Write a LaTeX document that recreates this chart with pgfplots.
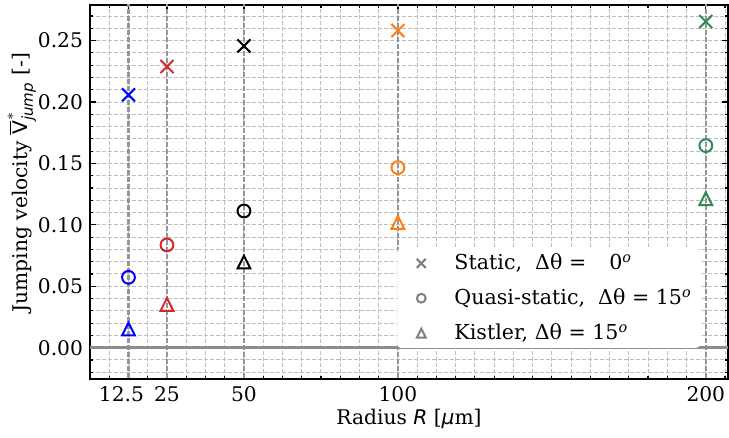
\documentclass[border=0pt]{standalone}
\usepackage{fontspec}
\setmainfont{DejaVu Serif}
\setsansfont{DejaVu Sans}
\usepackage{pgfplots}
\pgfplotsset{compat=1.18}
\definecolor{cblue}{RGB}{0,0,255}
\definecolor{cred}{RGB}{214,39,40}
\definecolor{corange}{RGB}{255,127,14}
\definecolor{cgreen}{RGB}{46,139,87}
\definecolor{gridgray}{RGB}{190,190,190}
\definecolor{vgray}{RGB}{150,150,150}
\definecolor{zgray}{RGB}{140,140,140}

% matplotlib-like up triangle (bbox centred)
\pgfdeclareplotmark{mtri}{%
  \pgfpathmoveto{\pgfqpoint{0pt}{\pgfplotmarksize}}%
  \pgfpathlineto{\pgfqpoint{-\pgfplotmarksize}{-\pgfplotmarksize}}%
  \pgfpathlineto{\pgfqpoint{\pgfplotmarksize}{-\pgfplotmarksize}}%
  \pgfpathclose\pgfusepathqstroke}

\begin{document}
\begin{tikzpicture}
\begin{axis}[
  name=ax,
  scale only axis,
  width=319pt,height=187pt,
  xmin=0,xmax=207.2,
  ymin=-0.0255,ymax=0.279,
  font=\fontsize{10.1}{12}\selectfont,
  xtick={12.5,25,50,100,200},
  xticklabels={12.5\kern7pt\relax,25,50,100,200},
  minor xtick={6.25,18.75,31.25,37.5,43.75,56.25,62.5,68.75,75,81.25,87.5,93.75,106.25,112.5,118.75,125,131.25,137.5,143.75,150,156.25,162.5,168.75,175,181.25,187.5,193.75,206.25},
  ytick={0,0.05,0.1,0.15,0.2,0.25},
  minor ytick={-0.02,-0.01,0.01,0.02,0.03,0.04,0.06,0.07,0.08,0.09,0.11,0.12,0.13,0.14,0.16,0.17,0.18,0.19,0.21,0.22,0.23,0.24,0.26,0.27},
  yticklabel style={/pgf/number format/.cd,fixed,fixed zerofill,precision=2,assume math mode=true},
  grid=both,
  major grid style={gridgray,line width=0.5pt,dash pattern=on 2pt off 1pt},
  minor grid style={gridgray,line width=0.5pt,dash pattern=on 2pt off 1pt},
  tick align=inside,
  xtick pos=both,ytick pos=both,
  major tick length=3pt,minor tick length=1.5pt,
  every tick/.style={black,line width=0.6pt},
  axis line style={line width=0.75pt},
  xlabel={Radius {\sffamily\itshape R} [{\sffamily\itshape μ}m]},
  xlabel style={at={(axis description cs:0.5,0)},anchor=base,yshift=-23pt},
  ylabel={Jumping velocity $\overline{\mbox{\sffamily V}}^{*}_{\mbox{\sffamily\itshape\fontsize{7.5}{8}\selectfont jump}}$ [-]},
  ylabel style={at={(axis description cs:-0.107,0.525)},anchor=center},
  legend style={at={(rel axis cs:0.481,0.083)},anchor=south west,
    fill=white,draw=white,rounded corners=2pt,
    font=\fontsize{10.3}{12}\selectfont,
    row sep=4pt,column sep=7.6pt,inner xsep=2pt,inner ysep=0.5pt},
  legend image code/.code={%
    \path (0pt,0pt) (16pt,0pt);
    \draw[mark repeat=1,#1] plot coordinates {(9.5pt,0pt)};},
  legend cell align=left,
]
% reference lines
\addplot[vgray,line width=1.3pt,dash pattern=on 2.5pt off 1pt,forget plot] coordinates {(12.5,-0.03) (12.5,0.29)};
\addplot[vgray,line width=1.3pt,dash pattern=on 2.5pt off 1pt,forget plot] coordinates {(25,-0.03) (25,0.29)};
\addplot[vgray,line width=1.3pt,dash pattern=on 2.5pt off 1pt,forget plot] coordinates {(50,-0.03) (50,0.29)};
\addplot[vgray,line width=1.3pt,dash pattern=on 2.5pt off 1pt,forget plot] coordinates {(100,-0.03) (100,0.29)};
\addplot[vgray,line width=1.3pt,dash pattern=on 2.5pt off 1pt,forget plot] coordinates {(200,-0.03) (200,0.29)};
\addplot[zgray,line width=1.3pt,forget plot] coordinates {(0,0) (207.2,0)};

% static (x)
\addplot[only marks,mark=x,mark size=4.6pt,line width=1pt,cblue,forget plot] coordinates {(12.5,0.2058)};
\addplot[only marks,mark=x,mark size=4.6pt,line width=1pt,cred,forget plot] coordinates {(25,0.2289)};
\addplot[only marks,mark=x,mark size=4.6pt,line width=1pt,black,forget plot] coordinates {(50,0.2457)};
\addplot[only marks,mark=x,mark size=4.6pt,line width=1pt,corange,forget plot] coordinates {(100,0.2582)};
\addplot[only marks,mark=x,mark size=4.6pt,line width=1pt,cgreen,forget plot] coordinates {(200,0.2655)};
% quasi-static (o)
\addplot[only marks,mark=o,mark size=3.2pt,line width=1pt,cblue,forget plot] coordinates {(12.5,0.0573)};
\addplot[only marks,mark=o,mark size=3.2pt,line width=1pt,cred,forget plot] coordinates {(25,0.0836)};
\addplot[only marks,mark=o,mark size=3.2pt,line width=1pt,black,forget plot] coordinates {(50,0.1113)};
\addplot[only marks,mark=o,mark size=3.2pt,line width=1pt,corange,forget plot] coordinates {(100,0.1466)};
\addplot[only marks,mark=o,mark size=3.2pt,line width=1pt,cgreen,forget plot] coordinates {(200,0.1645)};
% kistler (triangle)
\addplot[only marks,mark=mtri,mark size=3.2pt,line width=1pt,cblue,forget plot] coordinates {(12.5,0.0152)};
\addplot[only marks,mark=mtri,mark size=3.2pt,line width=1pt,cred,forget plot] coordinates {(25,0.0352)};
\addplot[only marks,mark=mtri,mark size=3.2pt,line width=1pt,black,forget plot] coordinates {(50,0.0697)};
\addplot[only marks,mark=mtri,mark size=3.2pt,line width=1pt,corange,forget plot] coordinates {(100,0.1020)};
\addplot[only marks,mark=mtri,mark size=3.2pt,line width=1pt,cgreen,forget plot] coordinates {(200,0.1213)};

\addlegendimage{only marks,mark=x,mark size=3.2pt,line width=1pt,gray}
\addlegendentry{Static,~ Δθ = \phantom{1}\,0\textsuperscript{\itshape o}}
\addlegendimage{only marks,mark=o,mark size=2.2pt,line width=1pt,gray}
\addlegendentry{Quasi-static,~ Δθ = 15\textsuperscript{\itshape o}}
\addlegendimage{only marks,mark=mtri,mark size=2.2pt,line width=1pt,gray}
\addlegendentry{Kistler, Δθ = 15\textsuperscript{\itshape o}}
\end{axis}
\pgfresetboundingbox
\path[use as bounding box] ([xshift=-45pt,yshift=-29.5pt]ax.south west) rectangle ([xshift=0.5pt,yshift=2.5pt]ax.north east);
\end{tikzpicture}
\end{document}
